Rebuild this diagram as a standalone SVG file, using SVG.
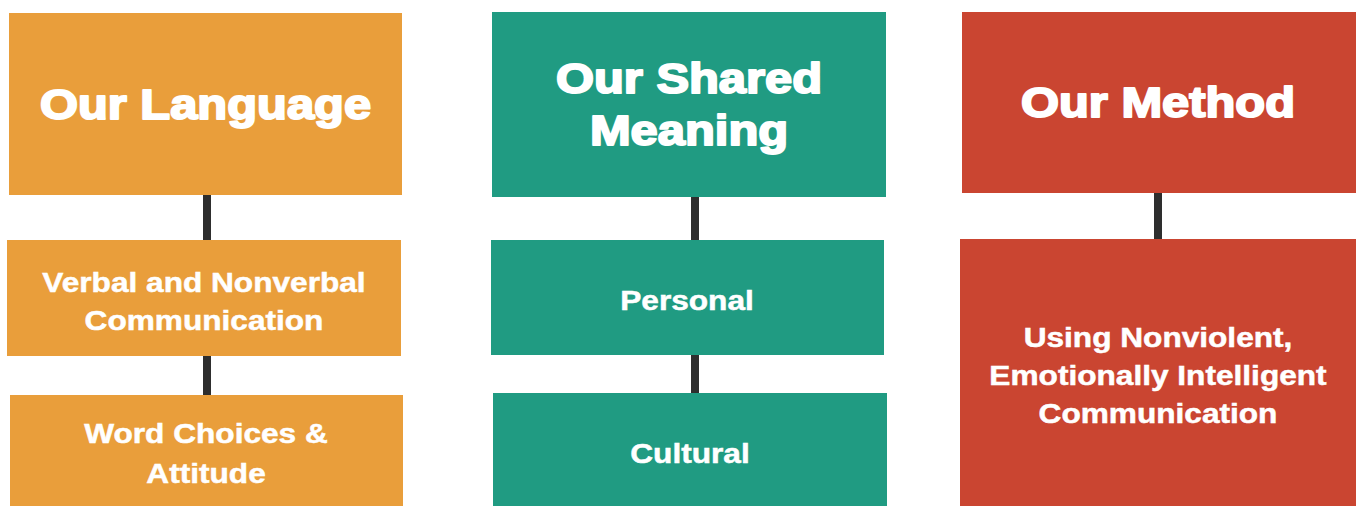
<svg xmlns="http://www.w3.org/2000/svg" width="1356" height="506" viewBox="0 0 1356 506">
  <style>
    .orange { fill: #E99E3B; }
    .teal { fill: #209B82; }
    .red { fill: #CA4531; }
    .link { fill: #2E2E2E; }
    text { font-family: "Liberation Sans", Arial, sans-serif; font-weight: bold; fill: #FFFFFF; text-anchor: middle; }
    .title { font-size: 42.5px; stroke: #FFFFFF; stroke-width: 2px; stroke-linejoin: round; }
    .sub { font-size: 27.5px; stroke: #FFFFFF; stroke-width: 0.5px; }
  </style>
  <rect width="1356" height="506" fill="#FFFFFF"/>

  <!-- connectors -->
  <g id="connectors">
    <rect class="link" x="203" y="195" width="8" height="45"/>
    <rect class="link" x="203" y="356" width="8" height="39"/>
    <rect class="link" x="691" y="197" width="8" height="43"/>
    <rect class="link" x="691" y="355" width="8" height="38"/>
    <rect class="link" x="1154" y="193" width="8" height="46"/>
  </g>

  <!-- column 1 -->
  <g id="our-language">
    <rect class="orange" x="9" y="13" width="393" height="182"/>
    <text class="title" transform="translate(205.5,119) scale(1.15,1)">Our Language</text>
  </g>
  <g id="verbal-nonverbal">
    <rect class="orange" x="7" y="240" width="394" height="116"/>
    <text class="sub" transform="translate(204,292) scale(1.15,1)">Verbal and Nonverbal</text>
    <text class="sub" transform="translate(204,330) scale(1.15,1)">Communication</text>
  </g>
  <g id="word-choices">
    <rect class="orange" x="10" y="395" width="393" height="111"/>
    <text class="sub" transform="translate(206,443) scale(1.15,1)">Word Choices &amp;</text>
    <text class="sub" transform="translate(206,483) scale(1.15,1)">Attitude</text>
  </g>

  <!-- column 2 -->
  <g id="shared-meaning">
    <rect class="teal" x="492" y="12" width="394" height="185"/>
    <text class="title" transform="translate(689,93) scale(1.15,1)">Our Shared</text>
    <text class="title" transform="translate(689,145) scale(1.15,1)">Meaning</text>
  </g>
  <g id="personal">
    <rect class="teal" x="491" y="240" width="393" height="115"/>
    <text class="sub" transform="translate(687,310) scale(1.15,1)">Personal</text>
  </g>
  <g id="cultural">
    <rect class="teal" x="493" y="393" width="394" height="113"/>
    <text class="sub" transform="translate(690,463) scale(1.15,1)">Cultural</text>
  </g>

  <!-- column 3 -->
  <g id="our-method">
    <rect class="red" x="962" y="12" width="394" height="181"/>
    <text class="title" transform="translate(1158,117) scale(1.15,1)">Our Method</text>
  </g>
  <g id="nonviolent">
    <rect class="red" x="960" y="239" width="396" height="267"/>
    <text class="sub" transform="translate(1158,347) scale(1.15,1)">Using Nonviolent,</text>
    <text class="sub" transform="translate(1158,385) scale(1.15,1)">Emotionally Intelligent</text>
    <text class="sub" transform="translate(1158,423) scale(1.15,1)">Communication</text>
  </g>
</svg>
